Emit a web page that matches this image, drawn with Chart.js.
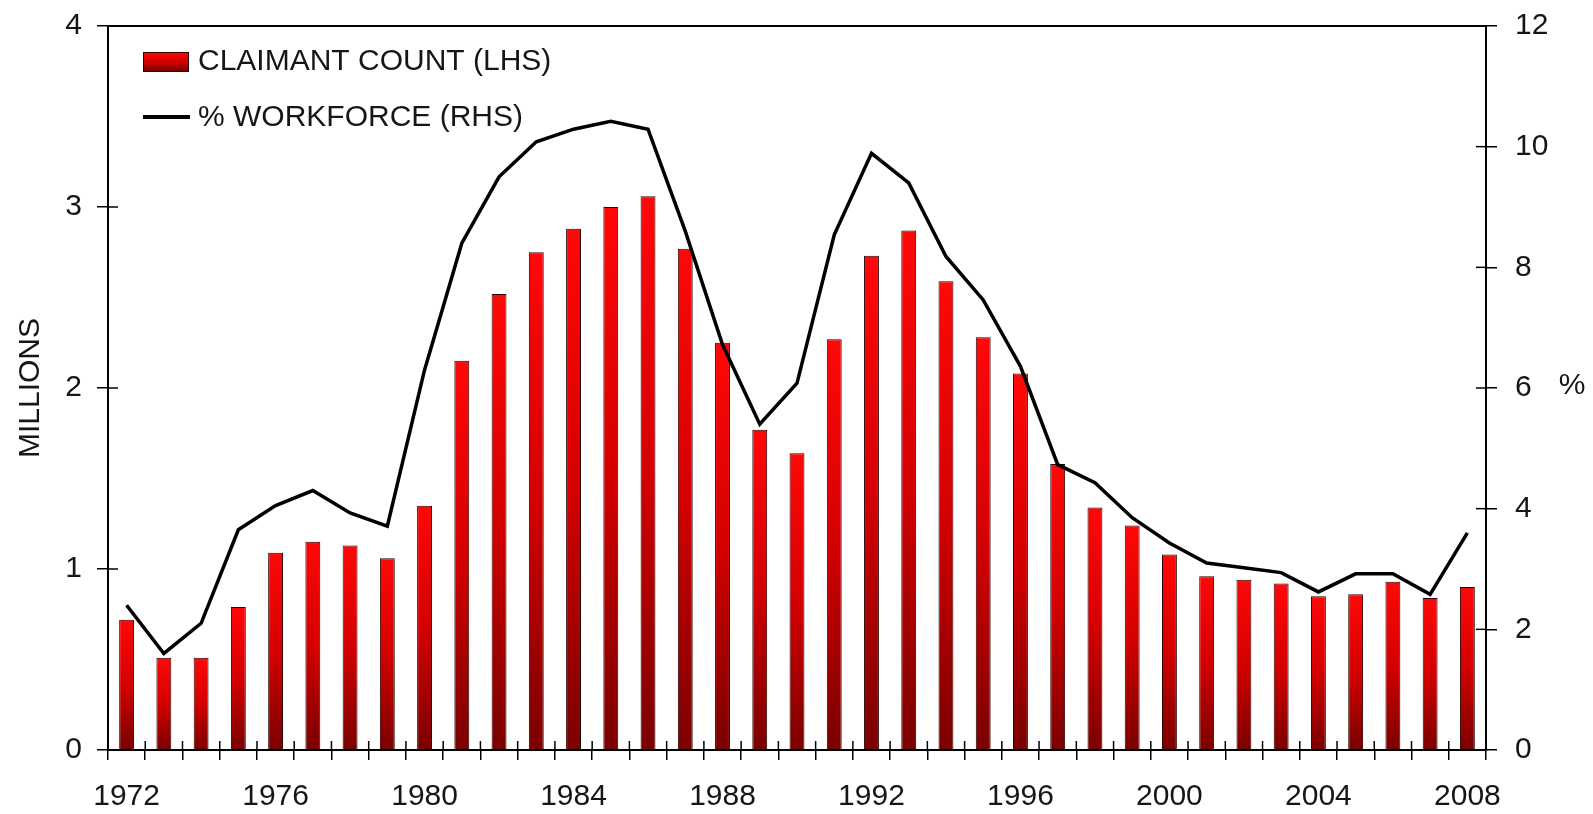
<!DOCTYPE html>
<html><head><meta charset="utf-8">
<script src="https://cdn.jsdelivr.net/npm/chart.js@4.4.1/dist/chart.umd.min.js"></script>
<style>html,body{margin:0;padding:0;background:#fff}canvas{display:block}</style>
</head><body>
<canvas id="c" width="1593" height="814" style="width:1593px;height:814px"></canvas>
<script>
const years = ['1972','1973','1974','1975','1976','1977','1978','1979','1980','1981','1982','1983','1984','1985','1986','1987','1988','1989','1990','1991','1992','1993','1994','1995','1996','1997','1998','1999','2000','2001','2002','2003','2004','2005','2006','2007','2008'];
const claimantCount = [0.72,0.51,0.51,0.79,1.09,1.15,1.13,1.06,1.35,2.15,2.52,2.75,2.88,3.00,3.06,2.77,2.25,1.77,1.64,2.27,2.73,2.87,2.59,2.28,2.08,1.58,1.34,1.24,1.08,0.96,0.94,0.92,0.85,0.86,0.93,0.84,0.90];
const workforcePct = [2.4,1.6,2.1,3.65,4.05,4.3,3.93,3.71,6.3,8.4,9.5,10.08,10.29,10.42,10.29,8.6,6.72,5.4,6.08,8.54,9.89,9.4,8.18,7.46,6.36,4.73,4.43,3.85,3.43,3.1,3.02,2.94,2.62,2.92,2.92,2.58,3.6];
const xTickLabels = ['1972','1976','1980','1984','1988','1992','1996','2000','2004','2008'];
const leftTicks = [0,1,2,3,4];
const rightTicks = [0,2,4,6,8,10,12];
const seriesNames = ['CLAIMANT COUNT (LHS)','% WORKFORCE (RHS)'];
const leftTitle = 'MILLIONS';
const rightTitle = '%';

const FONT = '"Liberation Sans", Arial, sans-serif';
const FS = 30;
const TXT = '#161616';

function redGradient(ctx, top, bot){
  const g = ctx.createLinearGradient(0, top, 0, bot);
  g.addColorStop(0, '#ff0808');
  g.addColorStop(0.5, '#d40000');
  g.addColorStop(1, '#7a0000');
  return g;
}
function barFill(c){
  const chart = c.chart;
  if (!chart.chartArea || c.type !== 'data' || !chart.scales.y) return '#d00000';
  const y = chart.scales.y;
  const top = y.getPixelForValue(c.raw), bot = y.getPixelForValue(0);
  if (!isFinite(top) || !isFinite(bot) || Math.abs(bot - top) < 1) return '#d00000';
  return redGradient(chart.ctx, top, bot);
}

const decor = {
  id: 'decor',
  afterDraw(chart){
    const {ctx, chartArea: a, scales} = chart;
    ctx.save();
    ctx.strokeStyle = '#000';
    ctx.lineWidth = 2;
    ctx.beginPath(); ctx.moveTo(a.left - 1, a.top); ctx.lineTo(a.right + 1, a.top); ctx.stroke();
    ctx.lineWidth = 1.5;
    const seg = (x1,y1,x2,y2)=>{ctx.beginPath();ctx.moveTo(x1,y1);ctx.lineTo(x2,y2);ctx.stroke();};
    scales.y.ticks.forEach((t,i)=>{ const p = scales.y.getPixelForTick(i); seg(a.left, p, a.left + 10, p); });
    scales.y1.ticks.forEach((t,i)=>{ const p = scales.y1.getPixelForTick(i); seg(a.right - 10, p, a.right, p); });
    const n = years.length, w = (a.right - a.left) / n;
    for (let k = 0; k <= n; k++){ const px = a.left + k * w; seg(px, a.bottom - 9, px, a.bottom); }
    // legend
    ctx.font = FS + 'px ' + FONT;
    ctx.textBaseline = 'middle';
    ctx.textAlign = 'left';
    ctx.fillStyle = redGradient(ctx, 52, 71);
    ctx.fillRect(143, 52, 45, 19);
    ctx.strokeStyle = '#300'; ctx.lineWidth = 1;
    ctx.strokeRect(143.5, 52.5, 45, 19);
    ctx.fillStyle = TXT;
    ctx.fillText(seriesNames[0], 198, 62);
    ctx.strokeStyle = '#000'; ctx.lineWidth = 4;
    seg(143, 117, 190, 117);
    ctx.fillText(seriesNames[1], 198, 118);
    // right axis title (upright)
    ctx.textAlign = 'center';
    ctx.fillText(rightTitle, 1572, 386);
    ctx.restore();
  }
};

new Chart(document.getElementById('c'), {
  data: {
    labels: years,
    datasets: [
      { type: 'bar', label: seriesNames[0], data: claimantCount, yAxisID: 'y',
        backgroundColor: barFill, borderColor: '#2a0000', borderWidth: 1,
        barPercentage: 0.4, categoryPercentage: 1.0, order: 1 },
      { type: 'line', label: seriesNames[1], data: workforcePct, yAxisID: 'y1',
        borderColor: '#000', borderWidth: 3.5, pointRadius: 0, tension: 0, order: 0 }
    ]
  },
  options: {
    responsive: false,
    devicePixelRatio: 1,
    animation: false,
    layout: { padding: { top: 26, left: 0, right: 0, bottom: 0 } },
    plugins: { legend: { display: false }, tooltip: { enabled: false } },
    scales: {
      x: {
        type: 'category', offset: true,
        grid: { offset: true, drawOnChartArea: false, tickLength: 10, color: '#000', lineWidth: 1.5 },
        border: { color: '#000', width: 2 },
        ticks: { autoSkip: false, maxRotation: 0, minRotation: 0, padding: 19,
          color: TXT, font: { family: FONT, size: FS },
          callback: function(v, i){ const l = this.getLabelForValue(v); return xTickLabels.includes(l) ? l : ''; } },
        afterFit: s => { s.height = 64; s.paddingLeft = 0; s.paddingRight = 0; }
      },
      y: {
        position: 'left', min: 0, max: 4,
        afterBuildTicks: s => { s.ticks = leftTicks.map(v => ({ value: v })); },
        grid: { drawOnChartArea: false, tickLength: 11, color: '#000', lineWidth: 1.5 },
        border: { color: '#000', width: 2 },
        ticks: { padding: 15, color: TXT, font: { family: FONT, size: FS } },
        title: { display: true, text: leftTitle, color: TXT, font: { family: FONT, size: FS }, padding: { top: 13, bottom: 0 } },
        afterFit: s => { s.width = 108; s.paddingTop = 0; s.paddingBottom = 0; }
      },
      y1: {
        position: 'right', min: 0, max: 12,
        afterBuildTicks: s => { s.ticks = rightTicks.map(v => ({ value: v })); },
        grid: { drawOnChartArea: false, tickLength: 11, color: '#000', lineWidth: 1.5 },
        border: { color: '#000', width: 2 },
        ticks: { padding: 18, color: TXT, font: { family: FONT, size: FS } },
        afterFit: s => { s.width = 107; s.paddingTop = 0; s.paddingBottom = 0; }
      }
    }
  },
  plugins: [decor]
});
</script>
</body></html>
